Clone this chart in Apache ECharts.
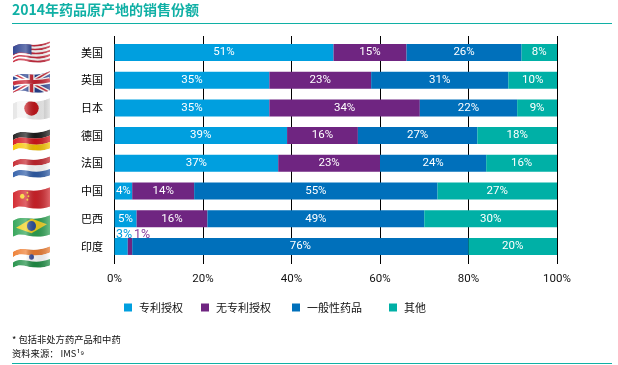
<!DOCTYPE html>
<html>
<head>
<meta charset="utf-8">
<title>2014年药品原产地的销售份额</title>
<script src="https://cdn.jsdelivr.net/npm/echarts@6/dist/echarts.min.js"></script>
<style>
  html, body { margin: 0; padding: 0; background: #fff; }
  #main { width: 618px; height: 365px; }
</style>
</head>
<body>
<div id="main"></div>
<script>
const TITLE = '2014年药品原产地的销售份额';
const FOOTNOTE = '* 包括非处方药产品和中药';
const SOURCE = '资料来源： IMS¹⁹';

const countries = ['美国', '英国', '日本', '德国', '法国', '中国', '巴西', '印度'];
const seriesNames = ['专利授权', '无专利授权', '一般性药品', '其他'];
const xTicks = [0, 20, 40, 60, 80, 100];

// printed percentages
const patentedPct = [51, 35, 35, 39, 37, 4, 5, 3];
const offPatentPct = [15, 23, 34, 16, 23, 14, 16, 1];
const genericPct = [26, 31, 22, 27, 24, 55, 49, 76];
const otherPct = [8, 10, 9, 18, 16, 27, 30, 20];

// segment lengths as drawn, the printed numbers do not always match the bar (US, UK)
const patentedLen = [49.5, 35, 35, 39, 37, 4, 5, 3];
const offPatentLen = [16.5, 23, 34, 16, 23, 14, 16, 1];
const genericLen = [26, 31, 22, 27, 24, 55, 49, 76];
const otherLen = [8, 11, 9, 18, 16, 27, 30, 20];

const COLORS = ['#009fdf', '#6f2581', '#0070bb', '#00b0a6'];
const TEAL = '#10b0a5';
const FONT = 'Roboto, "Noto Sans CJK SC", sans-serif';
const CJK = '"Noto Sans CJK SC", sans-serif';

// wavy flags, only decoration so they are plain svg
function band(t0, t1, color) {
  const top = [6, 0, 8, 1], bot = [20, 14, 24, 18];
  const y = (i, t) => (top[i] + (bot[i] - top[i]) * t).toFixed(1);
  return `<path fill="${color}" d="M0,${y(0, t0)} C10,${y(1, t0)} 18,${y(2, t0)} 36,${y(3, t0)} ` +
    `L36,${y(3, t1)} C18,${y(2, t1)} 10,${y(1, t1)} 0,${y(0, t1)} Z"/>`;
}
function stripes(colors) {
  return colors.map((c, i) => band(i / colors.length, (i + 1) / colors.length, c)).join('');
}
function flagUri(inner) {
  const svg = `<svg xmlns="http://www.w3.org/2000/svg" width="36" height="22" viewBox="0 0 36 22">` +
    `<defs><clipPath id="c"><path d="M0,6 C10,0 18,8 36,1 L36,18 C18,24 10,14 0,20 Z"/></clipPath>` +
    `<linearGradient id="g" x1="0" x2="1" y1="0" y2="0"><stop offset="0" stop-color="#fff" stop-opacity="0.05"/>` +
    `<stop offset="0.35" stop-color="#fff" stop-opacity="0.3"/><stop offset="0.6" stop-color="#000" stop-opacity="0.08"/>` +
    `<stop offset="1" stop-color="#fff" stop-opacity="0.3"/></linearGradient></defs>` +
    `<g clip-path="url(#c)">${inner}<rect width="36" height="22" fill="url(#g)"/></g></svg>`;
  return 'data:image/svg+xml;charset=utf-8,' + encodeURIComponent(svg);
}
const flags = [
  flagUri(stripes(['#c8283c', '#fff', '#c8283c', '#fff', '#c8283c', '#fff', '#c8283c', '#fff', '#c8283c']) +
    '<path fill="#2a3f8f" d="M0,5 C6,1 12,2 18,4 L18,13 C12,11 6,10 0,13 Z"/>'),
  flagUri('<rect width="36" height="22" fill="#27408f"/>' +
    '<path d="M0,3 L36,20 M0,20 L36,1" stroke="#fff" stroke-width="4"/>' +
    '<path d="M0,3 L36,20 M0,20 L36,1" stroke="#c8202f" stroke-width="1.4"/>' +
    '<path d="M18,0 V22 M0,12 C10,8 20,13 36,9" stroke="#fff" stroke-width="6" fill="none"/>' +
    '<path d="M18,0 V22 M0,12 C10,8 20,13 36,9" stroke="#c8202f" stroke-width="3.4" fill="none"/>'),
  flagUri('<rect width="36" height="22" fill="#f4f4f4"/>' +
    '<rect x="30" width="6" height="22" fill="#dcdcdc"/><rect width="4" height="22" fill="#e6e6e6"/>' +
    '<ellipse cx="18" cy="10" rx="7" ry="6.5" fill="#c4161c"/>'),
  flagUri(stripes(['#1c1c1c', '#d4151b', '#f7c600'])),
  flagUri(stripes(['#c5262e', '#ffffff', '#2f5da8'])),
  flagUri('<rect width="36" height="22" fill="#d2232a"/>' +
    '<circle cx="9" cy="9" r="2.2" fill="#f6d21c"/><circle cx="14" cy="6" r="0.9" fill="#f6d21c"/>' +
    '<circle cx="15" cy="9" r="0.9" fill="#f6d21c"/><circle cx="14" cy="12" r="0.9" fill="#f6d21c"/>'),
  flagUri('<rect width="36" height="22" fill="#2ea354"/>' +
    '<path d="M3,12 L18,4 L33,9 L18,17 Z" fill="#f2d21e"/><circle cx="18" cy="10.5" r="4.4" fill="#2b4f9c"/>'),
  flagUri(stripes(['#ee7d31', '#ffffff', '#1f8f45']) + '<circle cx="18" cy="10.5" r="2.4" fill="#3b4d9b"/>')
];
const flagTops = [40, 70, 97, 128, 155, 186, 214, 245];

const legendLefts = [124, 201, 292, 389];
const GRID_LEFT = 114.5;
const GRID_WIDTH = 442.5;

function makeSeries(idx, lengths, printed) {
  return {
    name: seriesNames[idx],
    type: 'bar',
    stack: 'share',
    xAxisIndex: 0,
    yAxisIndex: 0,
    barWidth: 17,
    itemStyle: { color: COLORS[idx] },
    label: {
      show: true,
      position: 'inside',
      color: '#fff',
      fontFamily: FONT,
      fontSize: 11.5,
      formatter: (p) => printed[p.dataIndex] + '%'
    },
    data: lengths.slice()
  };
}

const series = [
  makeSeries(0, patentedLen, patentedPct),
  makeSeries(1, offPatentLen, offPatentPct),
  makeSeries(2, genericLen, genericPct),
  makeSeries(3, otherLen, otherPct)
];

// India's two thin segments carry their labels above the bar
series[0].data[7] = {
  value: patentedLen[7],
  label: { position: 'top', distance: 0, offset: [3, 3], fontSize: 12.5, color: COLORS[0] }
};
series[1].data[7] = {
  value: offPatentLen[7],
  label: { position: 'top', distance: 0, offset: [12, 3], fontSize: 12.5, color: '#8a3f9e' }
};

const chart = echarts.init(document.getElementById('main'), null, { renderer: 'canvas' });

chart.setOption({
  animation: false,
  backgroundColor: '#fff',
  title: {
    text: TITLE,
    left: 12,
    top: 3,
    padding: 0,
    textStyle: { color: TEAL, fontSize: 14, fontWeight: 'bold', fontFamily: CJK }
  },
  legend: seriesNames.map((name, i) => ({
    data: [name],
    left: legendLefts[i],
    top: 302,
    padding: 0,
    itemWidth: 8,
    itemHeight: 8,
    selectedMode: false,
    icon: 'rect',
    textStyle: { color: '#111', fontSize: 11, fontFamily: CJK, padding: [0, 0, 0, 2] }
  })),
  grid: [
    { left: GRID_LEFT, width: GRID_WIDTH, top: 38.6, height: 221.7 },
    // taller grid only for the vertical rules, they stick out past the bars
    { left: GRID_LEFT, width: GRID_WIDTH, top: 36, height: 228 }
  ],
  xAxis: [
    { type: 'value', gridIndex: 0, min: 0, max: 100, show: false },
    {
      type: 'value',
      gridIndex: 1,
      min: 0,
      max: 100,
      interval: 20,
      axisLine: { show: false },
      axisTick: { show: false },
      axisLabel: {
        margin: 9,
        color: '#111',
        fontFamily: FONT,
        fontSize: 11.5,
        formatter: (v) => (xTicks.includes(v) ? v + '%' : '')
      },
      splitLine: { show: true, lineStyle: { color: '#000', width: 1 } }
    }
  ],
  yAxis: [
    {
      type: 'category',
      gridIndex: 0,
      inverse: true,
      data: countries,
      axisLine: { show: false },
      axisTick: { show: false },
      axisLabel: { margin: 11.5, color: '#000', fontSize: 11, fontFamily: CJK }
    },
    { type: 'value', gridIndex: 1, min: 0, max: 1, show: false }
  ],
  series: series,
  graphic: [
    { type: 'rect', silent: true, shape: { x: 12, y: 23, width: 600, height: 1 }, style: { fill: TEAL } },
    { type: 'rect', silent: true, shape: { x: 12, y: 363, width: 600, height: 1 }, style: { fill: TEAL } },
    {
      type: 'text',
      left: 12,
      top: 335,
      style: { text: FOOTNOTE, fill: '#111', font: '9.3px ' + CJK }
    },
    {
      type: 'text',
      left: 12,
      top: 349,
      style: { text: SOURCE, fill: '#111', font: '9.3px ' + CJK }
    }
  ].concat(flags.map((uri, i) => ({
    type: 'image',
    silent: true,
    left: 13,
    top: flagTops[i],
    style: { image: uri, width: 37, height: 25 }
  })))
});
</script>
</body>
</html>
